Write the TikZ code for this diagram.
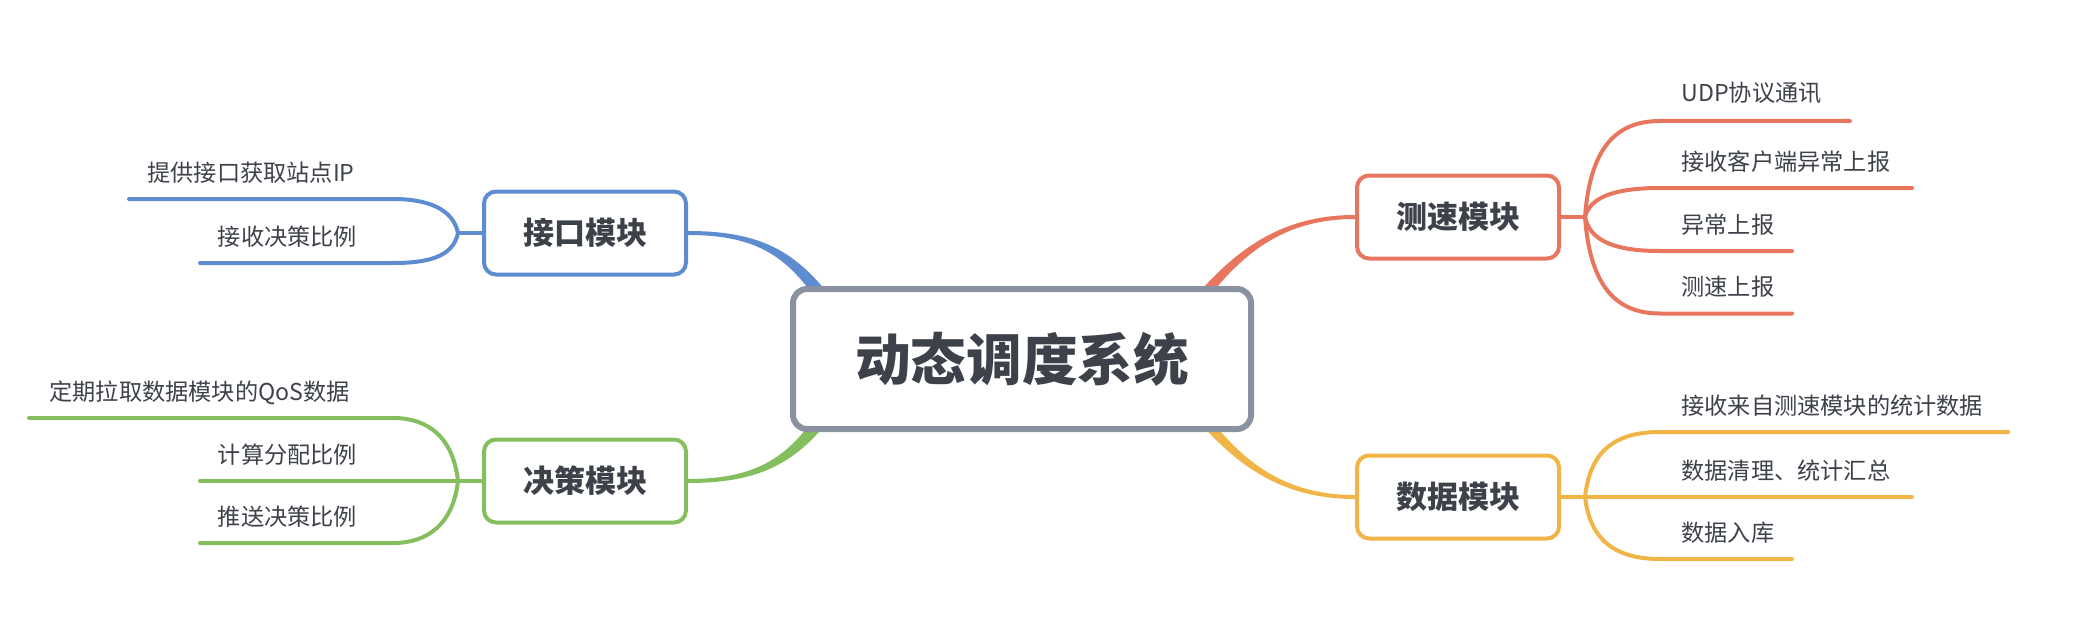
\documentclass[tikz,border=0pt]{standalone}
\usepackage{fontspec}
\setmainfont{Noto Sans CJK SC}
\usetikzlibrary{calc}
\definecolor{cblue}{HTML}{5E8CD0}
\definecolor{cgreen}{HTML}{84BE5F}
\definecolor{cred}{HTML}{E8765F}
\definecolor{cyellow}{HTML}{F0B447}
\definecolor{cgray}{HTML}{8A91A1}
\definecolor{ctext}{HTML}{3D4149}
\pgfdeclarelayer{bg}
\pgfsetlayers{bg,main}
\begin{document}
\begin{tikzpicture}[x=0.5pt,y=-0.5pt,
  mod/.style={draw,line width=2pt,rounded corners=6pt,fill=white,minimum width=101pt,minimum height=41.5pt,inner sep=0pt,font=\bfseries\fontsize{15.5}{18}\selectfont,text=ctext},
  root/.style={draw=cgray,line width=3pt,rounded corners=7pt,fill=white,minimum width=229pt,minimum height=70pt,inner sep=0pt,font=\bfseries\fontsize{27.8}{32}\selectfont,text=ctext},
  leaf/.style={anchor=base west,inner sep=0pt,font=\fontsize{11.6}{14}\selectfont,text=ctext},
  sub/.style={line width=2pt,line cap=round}]
\useasboundingbox (0,0) rectangle (2092,642);

% nodes
\node[root] (c) at (1022,359) {动态调度系统};
\node[mod,draw=cblue] (jk) at (585,233) {接口模块};
\node[mod,draw=cgreen] (jc) at (585,481) {决策模块};
\node[mod,draw=cred] (cs) at (1458,217) {测速模块};
\node[mod,draw=cyellow] (sj) at (1458,497) {数据模块};

% junctions
\coordinate (jkJ) at (458,233);
\coordinate (jcJ) at (458,481);
\coordinate (csJ) at (1585,217);
\coordinate (sjJ) at (1585,497);

\begin{pgfonlayer}{bg}
% main tapered connectors
\fill[cblue] ($(jk.east)+(0,-2)$) .. controls (770,231) and (804,257) .. (846,318)
  -- (834,326) .. controls (796,266) and (770,235) .. ($(jk.east)+(0,2)$) -- cycle;
\fill[cgreen] ($(jc.east)+(0,2)$) .. controls (770,483) and (804,457) .. (846,398)
  -- (834,390) .. controls (796,448) and (770,479) .. ($(jc.east)+(0,-2)$) -- cycle;
\fill[cred] ($(cs.west)+(0,-2)$) .. controls (1274,215) and (1226,257) .. (1179.2,316.4)
  -- (1188.8,323.6) .. controls (1232,263) and (1274,219) .. ($(cs.west)+(0,2)$) -- cycle;
\fill[cyellow] ($(sj.west)+(0,2)$) .. controls (1274,499) and (1226,458) .. (1179.2,397.6)
  -- (1188.8,390.4) .. controls (1232,452) and (1274,495) .. ($(sj.west)+(0,-2)$) -- cycle;
\end{pgfonlayer}

% blue sub-branches
\coordinate (b1) at (129,199);
\coordinate (b2) at (200,263);
\draw[sub,cblue] (jk.west) -- (jkJ);
\draw[sub,cblue] (jkJ) .. controls (453,209) and (428,199) .. (393,199) -- (b1);
\draw[sub,cblue] (jkJ) .. controls (453,257) and (428,263) .. (393,263) -- (b2);
\node[leaf] (b1t) at (147,181) {提供接口获取站点IP};
\node[leaf] (b2t) at (217.5,245) {接收决策比例};

% green sub-branches
\coordinate (g1) at (29,418);
\coordinate (g2) at (200,481);
\coordinate (g3) at (200,543);
\draw[sub,cgreen] (jc.west) -- (jcJ);
\draw[sub,cgreen] (jcJ) .. controls (453,437) and (428,418) .. (393,418) -- (g1);
\draw[sub,cgreen] (jcJ) -- (g2);
\draw[sub,cgreen] (jcJ) .. controls (453,524) and (428,543) .. (393,543) -- (g3);
\node[leaf] (g1t) at (49,400) {定期拉取数据模块的QoS数据};
\node[leaf] (g2t) at (217.5,463) {计算分配比例};
\node[leaf] (g3t) at (217.5,525) {推送决策比例};

% red sub-branches
\coordinate (r1) at (1850,121);
\coordinate (r2) at (1912,188);
\coordinate (r3) at (1792,251);
\coordinate (r4) at (1792,313.5);
\draw[sub,cred] (cs.east) -- (csJ);
\draw[sub,cred] (csJ) .. controls (1590,149) and (1615,121) .. (1660,121) -- (r1);
\draw[sub,cred] (csJ) .. controls (1590,197) and (1615,188) .. (1660,188) -- (r2);
\draw[sub,cred] (csJ) .. controls (1590,241) and (1615,251) .. (1660,251) -- (r3);
\draw[sub,cred] (csJ) .. controls (1590,285) and (1615,313.5) .. (1660,313.5) -- (r4);
\node[leaf] (r1t) at (1681,102) {UDP协议通讯};
\node[leaf] (r2t) at (1681,170) {接收客户端异常上报};
\node[leaf] (r3t) at (1681,233) {异常上报};
\node[leaf] (r4t) at (1681,295.5) {测速上报};

% yellow sub-branches
\coordinate (y1) at (2008,432);
\coordinate (y2) at (1912,497);
\coordinate (y3) at (1792,559);
\draw[sub,cyellow] (sj.east) -- (sjJ);
\draw[sub,cyellow] (sjJ) .. controls (1590,451) and (1615,432) .. (1660,432) -- (y1);
\draw[sub,cyellow] (sjJ) -- (y2);
\draw[sub,cyellow] (sjJ) .. controls (1590,540) and (1615,559) .. (1660,559) -- (y3);
\node[leaf] (y1t) at (1681,414) {接收来自测速模块的统计数据};
\node[leaf] (y2t) at (1681,479) {数据清理、统计汇总};
\node[leaf] (y3t) at (1681,541) {数据入库};
\end{tikzpicture}
\end{document}
